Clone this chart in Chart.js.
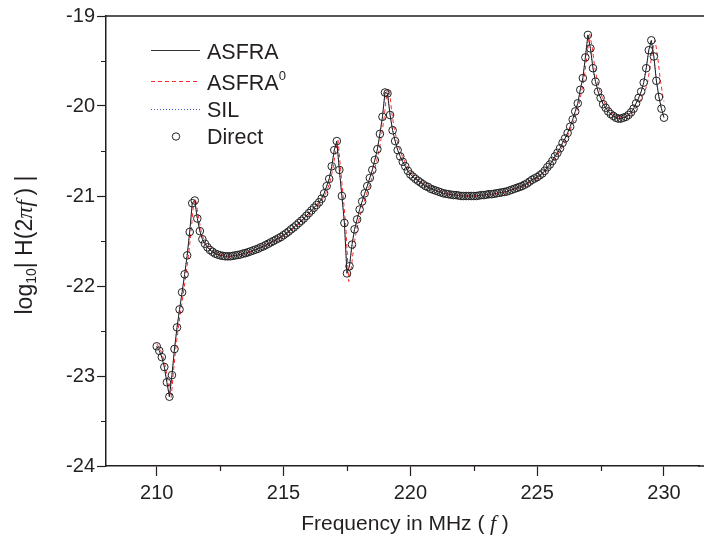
<!DOCTYPE html>
<html>
<head>
<meta charset="utf-8">
<script src="https://cdn.jsdelivr.net/npm/chart.js@4.4.0/dist/chart.umd.min.js"></script>
<style>
html, body { margin: 0; padding: 0; background: #fff; }
#wrap { position: relative; width: 704px; height: 539px; }
</style>
</head>
<body>
<div id="wrap"><canvas id="chart"></canvas></div>
<script>
// sampling grid of the direct solution: 210.0 .. 230.0 MHz, 0.1 MHz apart
const FREQ_START = 210;
const FREQ_STEP = 0.1;

// log10|H(2 pi f)| (also followed by the ASFRA / SIL lines)
const directVals = [
    -22.67, -22.72, -22.79, -22.90, -23.07, -23.23, -22.99, -22.70, -22.46, -22.26,
    -22.07, -21.87, -21.66, -21.40, -21.08, -21.05, -21.25, -21.39, -21.48, -21.53,
    -21.57, -21.60, -21.62, -21.64, -21.65, -21.66, -21.665, -21.67, -21.67, -21.67,
    -21.665, -21.66, -21.655, -21.65, -21.64, -21.635, -21.625, -21.615, -21.605, -21.595,
    -21.585, -21.57, -21.56, -21.545, -21.53, -21.515, -21.50, -21.485, -21.47, -21.455,
    -21.435, -21.415, -21.395, -21.37, -21.35, -21.325, -21.30, -21.275, -21.25, -21.22,
    -21.19, -21.16, -21.13, -21.10, -21.07, -21.03, -20.97, -20.89, -20.81, -20.67,
    -20.49, -20.39, -20.71, -21.00, -21.30, -21.86, -21.78, -21.54, -21.37, -21.26,
    -21.15, -21.06, -20.97, -20.89, -20.80, -20.71, -20.60, -20.48, -20.31, -20.12,
    -19.85, -19.86, -20.10, -20.27, -20.39, -20.49, -20.56, -20.62, -20.67, -20.72,
    -20.76, -20.785, -20.81, -20.83, -20.85, -20.87, -20.89, -20.90, -20.92, -20.93,
    -20.94, -20.95, -20.96, -20.97, -20.975, -20.98, -20.985, -20.99, -20.99, -20.995,
    -21.00, -21.00, -21.00, -21.00, -21.00, -21.00, -21.00, -20.995, -20.99, -20.99,
    -20.985, -20.98, -20.98, -20.975, -20.97, -20.965, -20.96, -20.955, -20.95, -20.94,
    -20.93, -20.92, -20.91, -20.90, -20.89, -20.875, -20.86, -20.84, -20.82, -20.805,
    -20.79, -20.77, -20.75, -20.72, -20.68, -20.65, -20.61, -20.56, -20.52, -20.47,
    -20.41, -20.36, -20.30, -20.23, -20.15, -20.06, -19.97, -19.82, -19.69, -19.46,
    -19.21, -19.36, -19.58, -19.73, -19.84, -19.91, -19.98, -20.02, -20.06, -20.09,
    -20.11, -20.13, -20.14, -20.14, -20.13, -20.12, -20.10, -20.07, -20.03, -19.97,
    -19.91, -19.84, -19.74, -19.58, -19.38, -19.27, -19.45, -19.72, -19.90, -20.03,
    -20.13
];

// ASFRA^0 (red dashed) sits a little to the right of the others
const asfra0Freq = [
    210.0, 210.2, 210.3, 210.4, 210.5, 210.57, 210.65, 210.75, 210.85, 210.95,
    211.05, 211.15, 211.25, 211.35, 211.45, 211.52, 211.6, 211.67, 211.75, 211.85,
    211.95, 212.1, 212.3, 212.5, 212.8, 213.1, 213.5, 214.0, 214.5, 215.0,
    215.5, 216.0, 216.3, 216.55, 216.65, 216.75, 216.85, 216.95, 217.05, 217.15,
    217.25, 217.35, 217.45, 217.57, 217.67, 217.77, 217.87, 217.97, 218.07, 218.17,
    218.27, 218.37, 218.47, 218.57, 218.67, 218.77, 218.87, 218.97, 219.08, 219.17,
    219.27, 219.37, 219.47, 219.57, 219.7, 219.85, 220.0, 220.3, 220.6, 221.0,
    221.5, 222.0, 222.5, 223.0, 223.5, 224.0, 224.5, 225.0, 225.3, 225.5,
    225.7, 225.9, 226.05, 226.2, 226.35, 226.45, 226.55, 226.65, 226.75, 226.85,
    226.95, 227.07, 227.17, 227.27, 227.37, 227.47, 227.57, 227.67, 227.8, 228.0,
    228.2, 228.4, 228.6, 228.8, 228.95, 229.1, 229.25, 229.35, 229.45, 229.55,
    229.65, 229.75, 229.85, 229.95, 230.0
];
const asfra0Vals = [
    -22.64, -22.74, -22.84, -22.98, -23.14, -23.24, -22.98, -22.70, -22.47, -22.27,
    -22.08, -21.88, -21.67, -21.41, -21.09, -21.03, -21.15, -21.27, -21.39, -21.48,
    -21.54, -21.59, -21.63, -21.65, -21.67, -21.665, -21.64, -21.59, -21.525, -21.445,
    -21.34, -21.21, -21.12, -21.03, -20.98, -20.91, -20.82, -20.69, -20.51, -20.38,
    -20.70, -21.00, -21.32, -21.95, -21.80, -21.56, -21.39, -21.27, -21.16, -21.07,
    -20.98, -20.90, -20.81, -20.72, -20.61, -20.49, -20.32, -20.12, -19.83, -19.81,
    -20.08, -20.26, -20.38, -20.48, -20.57, -20.66, -20.74, -20.82, -20.88, -20.935,
    -20.975, -20.995, -21.00, -20.99, -20.97, -20.935, -20.885, -20.80, -20.74, -20.67,
    -20.59, -20.50, -20.43, -20.33, -20.23, -20.16, -20.07, -19.98, -19.84, -19.70,
    -19.47, -19.20, -19.35, -19.57, -19.72, -19.83, -19.91, -19.97, -20.03, -20.09,
    -20.12, -20.13, -20.11, -20.06, -20.00, -19.92, -19.84, -19.74, -19.57, -19.38,
    -19.27, -19.45, -19.70, -19.88, -19.95
];

const X_MIN = 208, X_MAX = 231.38;
const Y_MIN = -24, Y_MAX = -19;

const FONT = "'Liberation Sans', Arial, sans-serif";
const SERIF = "'Liberation Serif', 'Times New Roman', serif";
const INK = '#231f20';

const directPts = directVals.map((v, i) => ({ x: +(FREQ_START + i * FREQ_STEP).toFixed(1), y: v }));
const asfra0Pts = asfra0Vals.map((v, i) => ({ x: asfra0Freq[i], y: v }));

function drawRich(ctx, parts, x, y, align) {
    let total = 0;
    parts.forEach(p => { ctx.font = p.font; p.w = ctx.measureText(p.text).width; total += p.w; });
    let cx = align === 'center' ? x - total / 2 : x;
    parts.forEach(p => {
        ctx.font = p.font;
        ctx.fillText(p.text, cx, y + (p.dy || 0));
        cx += p.w;
    });
}

const decorPlugin = {
    id: 'decor',
    afterDraw(chart) {
        const { ctx, chartArea: a, scales: { x, y } } = chart;
        ctx.save();
        ctx.strokeStyle = INK;
        ctx.fillStyle = INK;

        // top frame, and the bottom axis carried on to the edge of the page
        ctx.lineWidth = 1.5;
        ctx.beginPath();
        ctx.moveTo(a.left, a.top);
        ctx.lineTo(chart.width, a.top);
        ctx.moveTo(a.right - 1, a.bottom);
        ctx.lineTo(chart.width, a.bottom);
        ctx.stroke();

        // minor ticks
        ctx.lineWidth = 1.2;
        ctx.beginPath();
        for (let v = 212.5; v < X_MAX; v += 5) {
            const px = Math.round(x.getPixelForValue(v)) + 0.5;
            ctx.moveTo(px, a.bottom);
            ctx.lineTo(px, a.bottom + 5);
        }
        for (let v = -23.5; v < Y_MAX; v += 1) {
            const py = Math.round(y.getPixelForValue(v)) + 0.5;
            ctx.moveTo(a.left - 5, py);
            ctx.lineTo(a.left, py);
        }
        ctx.stroke();

        // axis titles
        ctx.textBaseline = 'alphabetic';
        drawRich(ctx, [
            { text: 'Frequency in MHz (', font: `21px ${FONT}` },
            { text: ' f', font: `italic 22px ${SERIF}` },
            { text: ' )', font: `21px ${FONT}` }
        ], 405, 530, 'center');

        ctx.save();
        ctx.translate(32, 245);
        ctx.rotate(-Math.PI / 2);
        drawRich(ctx, [
            { text: 'log', font: `23px ${FONT}` },
            { text: '10', font: `14px ${FONT}`, dy: 4 },
            { text: '| H(2', font: `23px ${FONT}` },
            { text: 'π', font: `italic 24px ${SERIF}` },
            { text: 'f', font: `italic 24px ${SERIF}` },
            { text: '\u2009) |', font: `23px ${FONT}` }
        ], 0, 0, 'center');
        ctx.restore();

        // legend
        const lx0 = 151, lx1 = 200, tx = 207;
        ctx.lineWidth = 1;
        ctx.strokeStyle = '#333';
        ctx.setLineDash([]);
        ctx.beginPath(); ctx.moveTo(lx0, 50.5); ctx.lineTo(lx1, 50.5); ctx.stroke();

        ctx.strokeStyle = '#ff2a2a';
        ctx.setLineDash([4, 3]);
        ctx.beginPath(); ctx.moveTo(lx0, 81.5); ctx.lineTo(lx1, 81.5); ctx.stroke();

        ctx.strokeStyle = '#3b55c8';
        ctx.setLineDash([1, 2]);
        ctx.beginPath(); ctx.moveTo(lx0, 109.5); ctx.lineTo(lx1, 109.5); ctx.stroke();

        ctx.setLineDash([]);
        ctx.strokeStyle = '#222';
        ctx.beginPath(); ctx.arc(176, 136.5, 3.7, 0, Math.PI * 2); ctx.stroke();

        ctx.fillStyle = INK;
        ctx.font = `21.5px ${FONT}`;
        ctx.fillText('ASFRA', tx, 58.5);
        drawRich(ctx, [
            { text: 'ASFRA', font: `21.5px ${FONT}` },
            { text: '0', font: `13px ${FONT}`, dy: -10 }
        ], tx, 90, 'left');
        ctx.font = `21.5px ${FONT}`;
        ctx.fillText('SIL', tx, 117);
        ctx.fillText('Direct', tx, 143.5);

        ctx.restore();
    }
};

new Chart(document.getElementById('chart'), {
    type: 'line',
    data: {
        datasets: [{
            label: 'Direct',
            data: directPts,
            showLine: false,
            pointStyle: 'circle',
            pointRadius: 3.8,
            pointBorderWidth: 1,
            pointBorderColor: '#222',
            pointBackgroundColor: 'rgba(0,0,0,0)',
            order: 0
        }, {
            label: 'ASFRA0',
            data: asfra0Pts,
            borderColor: '#ff2a2a',
            borderWidth: 1,
            borderDash: [4, 3],
            pointRadius: 0,
            tension: 0,
            order: 1
        }, {
            label: 'ASFRA',
            data: directPts,
            borderColor: '#222',
            borderWidth: 1,
            pointRadius: 0,
            tension: 0,
            order: 2
        }, {
            label: 'SIL',
            data: directPts,
            borderColor: '#3b55c8',
            borderWidth: 1,
            borderDash: [1, 2],
            pointRadius: 0,
            tension: 0,
            order: 3
        }]
    },
    options: {
        responsive: true,
        maintainAspectRatio: false,
        animation: false,
        layout: { padding: { top: 16, right: 0, left: 0, bottom: 0 } },
        plugins: {
            legend: { display: false },
            tooltip: { enabled: false }
        },
        scales: {
            x: {
                type: 'linear',
                min: X_MIN,
                max: X_MAX,
                border: { display: true, color: INK, width: 1.5 },
                grid: { drawOnChartArea: false, drawTicks: true, tickLength: 10, tickColor: INK, tickWidth: 1.2 },
                ticks: {
                    stepSize: 5,
                    includeBounds: false,
                    autoSkip: false,
                    maxRotation: 0,
                    color: INK,
                    padding: 5,
                    font: { family: FONT, size: 20 }
                },
                afterFit: s => { s.height = 73; }
            },
            y: {
                type: 'linear',
                min: Y_MIN,
                max: Y_MAX,
                border: { display: true, color: INK, width: 1.5 },
                grid: { drawOnChartArea: false, drawTicks: true, tickLength: 9, tickColor: INK, tickWidth: 1.2 },
                ticks: {
                    stepSize: 1,
                    color: INK,
                    padding: 2,
                    font: { family: FONT, size: 20 }
                },
                afterFit: s => { s.width = 106; }
            }
        }
    },
    plugins: [decorPlugin]
});
</script>
</body>
</html>
